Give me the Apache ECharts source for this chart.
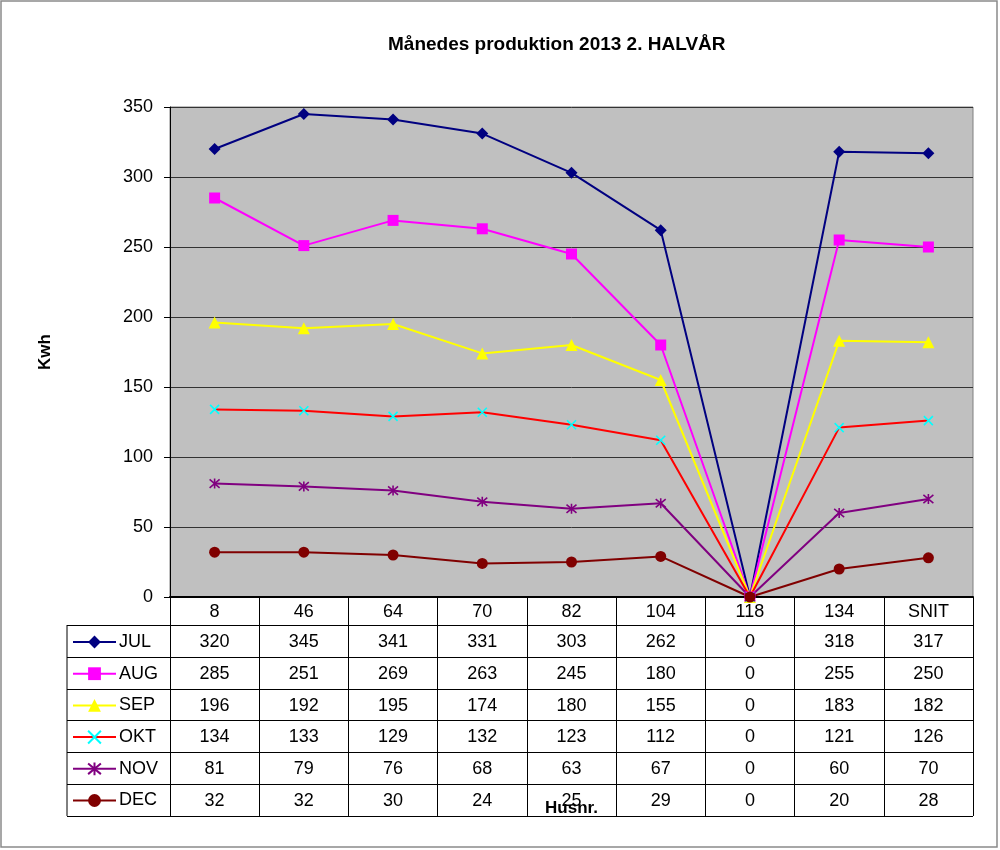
<!DOCTYPE html>
<html lang="da">
<head>
    <meta charset="UTF-8">
    <title>Månedes produktion 2013 2. HALVÅR</title>
    <script src="https://cdn.jsdelivr.net/npm/echarts@6/dist/echarts.min.js"></script>
    <style>
        html, body { margin: 0; padding: 0; background: #fff; }
        #container { width: 1000px; height: 850px; }
    </style>
</head>
<body>
<div id="container"></div>
<script type="text/javascript">
    // data
    var categories = ['8', '46', '64', '70', '82', '104', '118', '134', 'SNIT'];
    var months = ['JUL', 'AUG', 'SEP', 'OKT', 'NOV', 'DEC'];
    var jul = [320, 345, 341, 331, 303, 262, 0, 318, 317];
    var aug = [285, 251, 269, 263, 245, 180, 0, 255, 250];
    var sep = [196, 192, 195, 174, 180, 155, 0, 183, 182];
    var okt = [134, 133, 129, 132, 123, 112, 0, 121, 126];
    var nov = [81, 79, 76, 68, 63, 67, 0, 60, 70];
    var dec = [32, 32, 30, 24, 25, 29, 0, 20, 28];
    var values = [jul, aug, sep, okt, nov, dec];
    var yMin = 0, yMax = 350, yStep = 50;

    // layout (pixels)
    var plotLeft = 170, plotRight = 973, plotTop = 107, plotBottom = 597;
    var tableLeft = 67, headerH = 28, rowH = 31.83;
    var tableBottom = plotBottom + headerH + rowH * months.length;
    var font = 'Liberation Sans, Arial, sans-serif';

    var styles = [
        { line: '#000080', item: '#000080', symbol: 'diamond', size: 12 },
        { line: '#ff00ff', item: '#ff00ff', symbol: 'rect', size: 11 },
        { line: '#ffff00', item: '#ffff00', symbol: 'triangle', size: 12 },
        { line: '#ff0000', item: '#00ffff', symbol: 'path://M0,0L10,10M10,0L0,10', size: 9, stroke: true },
        { line: '#800080', item: '#800080', symbol: 'path://M0,0L10,10M10,0L0,10M5,-1L5,11', size: 10, stroke: true },
        { line: '#800000', item: '#800000', symbol: 'circle', size: 11 }
    ];

    var dom = document.getElementById('container');
    var myChart = echarts.init(dom);

    // x axes: the main one plus one per table row (labels only)
    var xAxes = [{
        type: 'category',
        data: categories,
        boundaryGap: true,
        position: 'bottom',
        axisLine: { show: true, lineStyle: { color: '#000', width: 2 } },
        axisTick: { show: true, length: tableBottom - plotBottom, lineStyle: { color: '#000', width: 1 } },
        axisLabel: { interval: 0, margin: 6, color: '#000', fontSize: 18, fontFamily: font },
        name: 'Husnr.',
        nameLocation: 'middle',
        nameGap: 203,
        nameTextStyle: { color: '#000', fontSize: 17, fontWeight: 'bold', fontFamily: font }
    }];
    values.forEach(function (row, i) {
        xAxes.push({
            type: 'category',
            data: row.map(String),
            position: 'bottom',
            offset: Math.round(headerH + rowH * i + rowH / 2 - headerH / 2),
            axisLine: { show: false },
            axisTick: { show: false },
            axisLabel: { interval: 0, margin: 6, color: '#000', fontSize: 18, fontFamily: font }
        });
    });

    var series = values.map(function (row, i) {
        var s = styles[i];
        return {
            name: months[i],
            type: 'line',
            xAxisIndex: 0,
            data: row,
            symbol: s.symbol,
            symbolSize: s.size,
            lineStyle: { color: s.line, width: 2 },
            itemStyle: s.stroke
                ? { color: s.item, borderColor: s.item, borderWidth: 1.6 }
                : { color: s.item },
            emphasis: { disabled: true }
        };
    });

    var graphics = [{
        type: 'rect',
        shape: { x: 1, y: 1, width: 996, height: 846 },
        style: { fill: 'none', stroke: '#8a8a8a', lineWidth: 1.5 },
        z: -1
    }, {
        type: 'line',
        shape: { x1: tableLeft, y1: plotBottom + headerH, x2: tableLeft, y2: tableBottom },
        style: { stroke: '#000', lineWidth: 1 }
    }];
    for (var r = 0; r <= months.length; r++) {
        var y = Math.round(plotBottom + headerH + rowH * r) + 0.5;
        graphics.push({
            type: 'line',
            shape: { x1: tableLeft, y1: y, x2: plotRight, y2: y },
            style: { stroke: '#000', lineWidth: 1 }
        });
    }

    var option = {
        animation: false,
        backgroundColor: '#fff',
        title: {
            text: 'Månedes produktion 2013 2. HALVÅR',
            left: 383,
            top: 30,
            textStyle: { color: '#000', fontSize: 19, fontWeight: 'bold', fontFamily: font }
        },
        legend: {
            orient: 'vertical',
            left: 72,
            top: plotBottom + headerH + 8,
            padding: 0,
            itemWidth: 43,
            itemHeight: 16,
            itemGap: 13.7,
            data: months,
            selectedMode: false,
            textStyle: { color: '#000', fontSize: 18, fontFamily: font, padding: [1, 0, 0, -2] }
        },
        grid: {
            left: plotLeft,
            top: plotTop,
            width: plotRight - plotLeft,
            height: plotBottom - plotTop,
            show: true,
            backgroundColor: '#c0c0c0',
            borderColor: '#808080',
            borderWidth: 1,
            outerBoundsMode: 'none'
        },
        xAxis: xAxes,
        yAxis: {
            type: 'value',
            min: yMin,
            max: yMax,
            interval: yStep,
            axisLine: { show: true, lineStyle: { color: '#000', width: 1 } },
            axisTick: { show: true, length: 6, lineStyle: { color: '#000' } },
            axisLabel: { margin: 17, color: '#000', fontSize: 18, fontFamily: font },
            splitLine: { show: true, lineStyle: { color: '#333', width: 1 } },
            name: 'Kwh',
            nameLocation: 'middle',
            nameRotate: 90,
            nameGap: 116,
            nameTextStyle: { color: '#000', fontSize: 17, fontWeight: 'bold', fontFamily: font }
        },
        graphic: graphics,
        series: series
    };

    if (option && typeof option === 'object') {
        myChart.setOption(option, true);
    }
</script>
</body>
</html>
